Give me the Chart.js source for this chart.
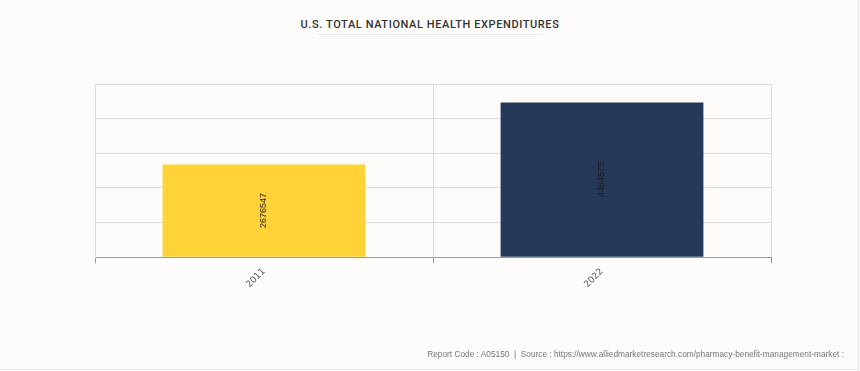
<!DOCTYPE html>
<html>
<head>
<meta charset="utf-8">
<script src="https://cdn.jsdelivr.net/npm/chart.js@4"></script>
<style>
	html, body { margin: 0; padding: 0; }
	body {
		width: 858px;
		height: 369px;
		background: #fdfcfb;
		border-right: 1px solid #e6e6e6;
		border-bottom: 1px solid #e6e6e6;
		position: relative;
		font-family: Roboto, "Liberation Sans", sans-serif;
		overflow: hidden;
	}
	#title {
		position: absolute;
		top: 18px;
		left: 0;
		width: 860px;
		text-align: center;
		font-size: 11px;
		font-weight: 500;
		letter-spacing: 0.6px;
		color: #333;
	}
	#rule {
		position: absolute;
		top: 34px;
		left: 318px;
		width: 225px;
		height: 1px;
		background: #ececec;
	}
	#footer {
		position: absolute;
		right: 14px;
		top: 349px;
		font-family: "Liberation Sans", Arial, sans-serif;
		font-size: 8.3px;
		color: #777;
	}
	#wrap { position: absolute; left: 0; top: 0; width: 860px; height: 371px; }
</style>
</head>
<body>
<div id="title">U.S. TOTAL NATIONAL HEALTH EXPENDITURES</div>
<div id="rule"></div>
<div id="wrap"><canvas id="chart"></canvas></div>
<div id="footer">Report Code : A05150&nbsp; |&nbsp; Source : https://www.alliedmarketresearch.com/pharmacy-benefit-management-market :</div>
<script>
// --- Data ---
const years = ["2011", "2022"];
const expenditures = [2676547, 4464573];
const barColors = ["#ffd338", "#253858"];
const yMax = 5000000;
const yStep = 1000000;

// --- Rotated value labels inside bars ---
const barLabels = {
	id: "barLabels",
	afterDatasetsDraw(chart) {
		const ctx = chart.ctx;
		const meta = chart.getDatasetMeta(0);
		ctx.save();
		ctx.font = "9px 'Liberation Sans', sans-serif";
		ctx.fillStyle = "#1a1a1a";
		ctx.textAlign = "center";
		ctx.textBaseline = "middle";
		meta.data.forEach((bar, i) => {
			ctx.save();
			ctx.translate(bar.x, (bar.y + bar.base) / 2);
			ctx.rotate(-Math.PI / 2);
			ctx.fillText(String(expenditures[i]), 0, 0);
			ctx.restore();
		});
		ctx.restore();
	},
};

new Chart(document.getElementById("chart"), {
	type: "bar",
	data: {
		labels: years,
		datasets: [
			{
				data: expenditures,
				backgroundColor: barColors,
				categoryPercentage: 0.6,
				barPercentage: 1,
			},
		],
	},
	options: {
		responsive: true,
		maintainAspectRatio: false,
		animation: false,
		layout: { padding: { left: 95, right: 89, top: 84, bottom: 78 } },
		plugins: {
			legend: { display: false },
			tooltip: { enabled: false },
		},
		scales: {
			x: {
				grid: { color: "#dcdcdc", tickColor: "#999", tickLength: 6 },
				border: { color: "#999" },
				ticks: {
					minRotation: 45,
					maxRotation: 45,
					color: "#555",
					font: { family: "'DejaVu Sans', sans-serif", size: 9 },
				},
			},
			y: {
				min: 0,
				max: yMax,
				ticks: { display: false, stepSize: yStep },
				grid: { color: "#dcdcdc", drawTicks: false },
				border: { color: "#dcdcdc" },
			},
		},
	},
	plugins: [barLabels],
});
</script>
</body>
</html>
